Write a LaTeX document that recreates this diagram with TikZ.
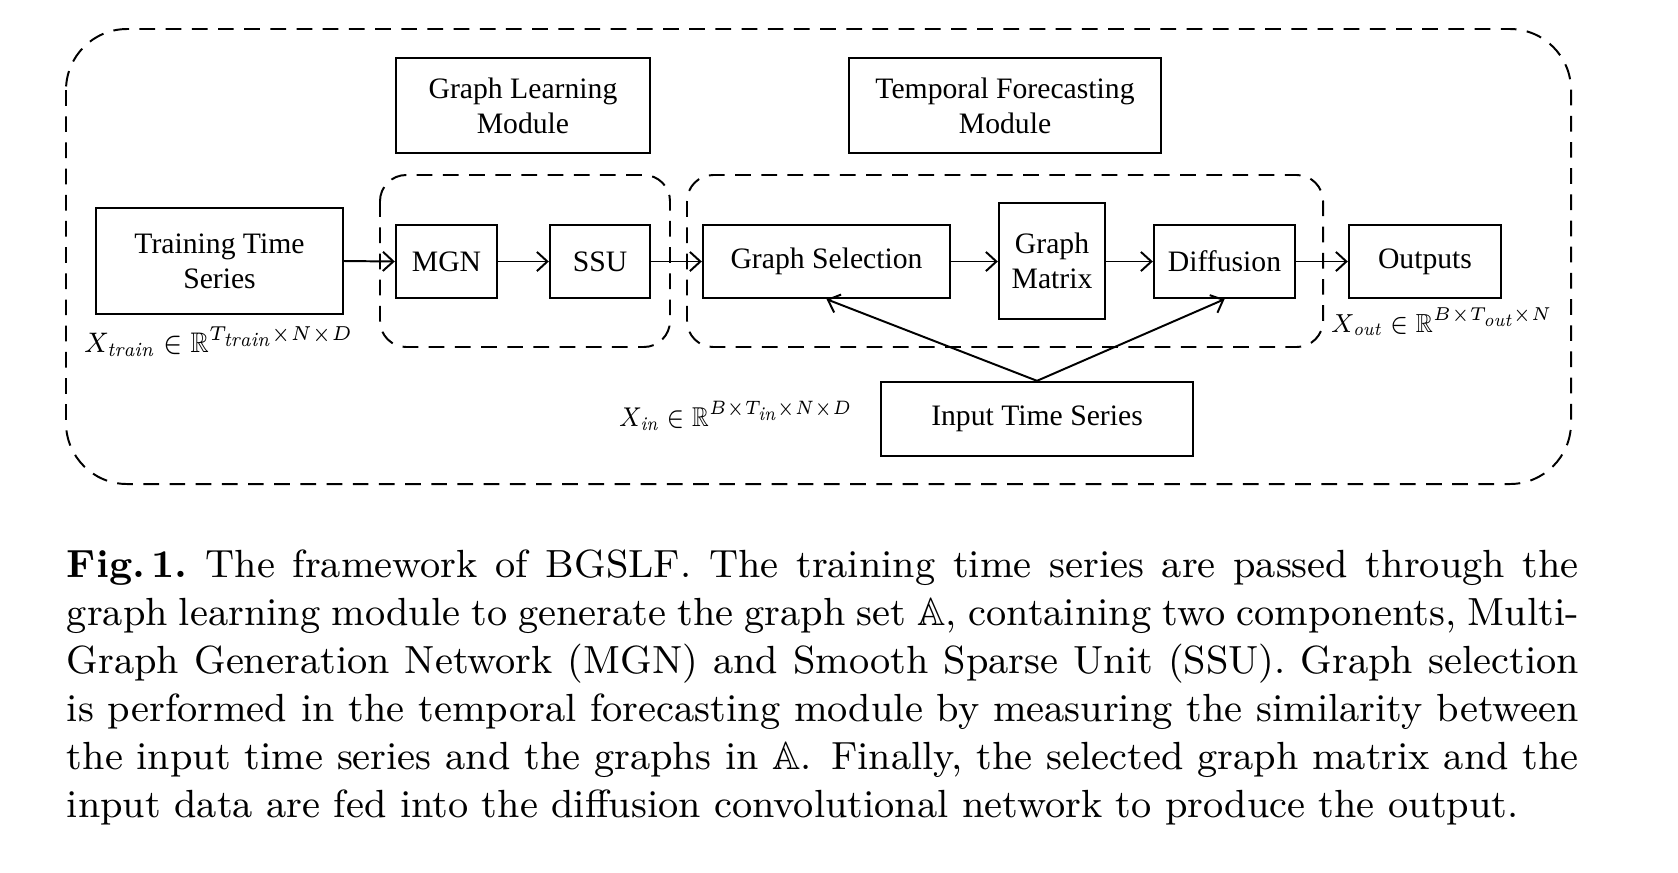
\documentclass[tikz,border=0pt]{standalone}
\usepackage{amsmath,amssymb}
\usepackage{graphicx}
\usepackage{fontspec}
\newfontfamily\tnr{Liberation Serif}
\usetikzlibrary{arrows.meta}
\def\pxu{0.2292pt}
\newdimen\pxd \pxd=0.2292pt
\tikzset{
  box/.style={draw, line width=0.55pt, inner sep=0pt, align=center, font=\tnr\fontsize{6.8}{8}\selectfont},
  dbox/.style={draw, line width=0.45pt, dash pattern=on 3.6pt off 2.4pt},
  arr/.style={line width=0.45pt, -{Straight Barb[length=2.4pt,width=4.4pt]}},
  lbl/.style={anchor=west, inner sep=0pt, font=\fontsize{7}{8}\selectfont},
}
\begin{document}
\begin{tikzpicture}[x=0.2292pt, y=-0.2292pt]
\useasboundingbox (0,0) rectangle (1678,872);
% outer dashed frame
\draw[dbox, rounded corners=14pt] (66,29) rectangle (1571,484);
\draw[dbox, rounded corners=6pt] (380,175) rectangle (670,347);
\draw[dbox, rounded corners=6pt] (687,175) rectangle (1323,347);
% boxes
\node[box, minimum width=254*\pxu, minimum height=95*\pxu] (glm) at (523,105.5) {Graph Learning\\Module};
\node[box, minimum width=312*\pxu, minimum height=95*\pxu] (tfm) at (1005,105.5) {Temporal Forecasting\\Module};
\node[box, minimum width=247*\pxu, minimum height=106*\pxu] (train) at (219.5,261) {Training Time\\Series};
\node[box, minimum width=101*\pxu, minimum height=73*\pxu] (mgn) at (446.5,261.5) {MGN};
\node[box, minimum width=100*\pxu, minimum height=73*\pxu] (ssu) at (600,261.5) {SSU};
\node[box, minimum width=247*\pxu, minimum height=73*\pxu] (gsel) at (826.5,261.5) {Graph Selection};
\node[box, minimum width=106*\pxu, minimum height=116*\pxu] (gmat) at (1052,261) {Graph\\Matrix};
\node[box, minimum width=141*\pxu, minimum height=73*\pxu] (diff) at (1224.5,261.5) {Diffusion};
\node[box, minimum width=152*\pxu, minimum height=73*\pxu] (outp) at (1425,261.5) {Outputs};
\node[box, minimum width=312*\pxu, minimum height=74*\pxu] (its) at (1037,419) {Input Time Series};
% arrows
\draw[arr] (train.east) -- (mgn.west);
\draw[arr] (mgn.east) -- (ssu.west);
\draw[arr] (ssu.east) -- (gsel.west);
\draw[arr] (gsel.east) -- (gmat.west |- gsel.east);
\draw[arr] (gmat.east |- diff.west) -- (diff.west);
\draw[arr] (diff.east) -- (outp.west);
\draw[arr] (its.north) -- (gsel.south);
\draw[arr] (its.north) -- (diff.south);
% labels
\node[lbl] (ltrain) at (83,342) {\resizebox{270\pxd}{26\pxd}{$X_{\mathit{train}}\in\mathbb{R}^{T_{\scriptstyle\mathit{train}}\times N\times D}$}};
\node[lbl] (lin) at (618,416) {\resizebox{234\pxd}{25\pxd}{$X_{\mathit{in}}\in\mathbb{R}^{B\times T_{\scriptstyle\mathit{in}}\times N\times D}$}};
\node[lbl] (lout) at (1330,322) {\resizebox{222\pxd}{24\pxd}{$X_{\mathit{out}}\in\mathbb{R}^{B\times T_{\scriptstyle\mathit{out}}\times N}$}};
% caption
\node[anchor=north west, inner sep=0pt, text width=1512*\pxu, align=justify,
      font=\fontsize{9}{11}\selectfont] (cap) at (66,549)
{\tolerance=9999\hyphenpenalty=10000\textbf{Fig.\,1.}\ The framework of BGSLF. The training time series are passed through the\linebreak
graph learning module to generate the graph set $\mathbb{A}$, containing two components, Multi-\linebreak
Graph Generation Network (MGN) and Smooth Sparse Unit (SSU). Graph selection\linebreak
is performed in the temporal forecasting module by measuring the similarity between\linebreak
the input time series and the graphs in $\mathbb{A}$. Finally, the selected graph matrix and the\linebreak
input data are fed into the diffusion convolutional network to produce the output.};
\end{tikzpicture}
\end{document}
